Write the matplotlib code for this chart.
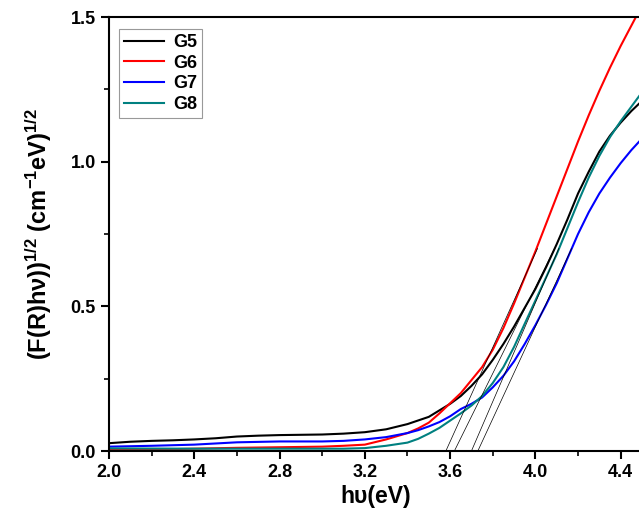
import matplotlib
matplotlib.use('Agg')
import matplotlib.pyplot as plt
from matplotlib.ticker import MultipleLocator

plt.rcParams['font.family'] = ['Liberation Sans', 'DejaVu Sans']
plt.rcParams['font.weight'] = 'bold'
plt.rcParams['mathtext.fontset'] = 'custom'
plt.rcParams['mathtext.rm'] = 'Liberation Sans:bold'
plt.rcParams['mathtext.bf'] = 'Liberation Sans:bold'
plt.rcParams['mathtext.it'] = 'Liberation Sans:bold'
plt.rcParams['mathtext.default'] = 'bf'

# G5 (black)
x_g5 = [2.0, 2.1, 2.2, 2.3, 2.4, 2.5, 2.6, 2.7, 2.8, 2.9, 3.0, 3.1, 3.2, 3.3, 3.4, 3.5,
        3.6, 3.65, 3.7, 3.75, 3.8, 3.85, 3.9, 3.95, 4.0, 4.05, 4.1, 4.15, 4.2, 4.25,
        4.3, 4.35, 4.4, 4.45, 4.5]
y_g5 = [0.027, 0.032, 0.035, 0.037, 0.040, 0.044, 0.050, 0.053, 0.055, 0.056, 0.057,
        0.060, 0.065, 0.075, 0.093, 0.118, 0.163, 0.19, 0.225, 0.265, 0.315, 0.37, 0.43,
        0.495, 0.56, 0.635, 0.715, 0.80, 0.89, 0.965, 1.035, 1.09, 1.135, 1.175, 1.21]

# G6 (red)
x_g6 = [2.0, 2.2, 2.4, 2.6, 2.8, 3.0, 3.1, 3.2, 3.3, 3.4, 3.45, 3.5, 3.55, 3.6, 3.65,
        3.7, 3.75, 3.8, 3.85, 3.9, 3.95, 4.0, 4.05, 4.1, 4.15, 4.2, 4.25, 4.3, 4.35,
        4.4, 4.45, 4.5]
y_g6 = [0.004, 0.005, 0.008, 0.011, 0.013, 0.015, 0.018, 0.022, 0.040, 0.062, 0.078,
        0.098, 0.13, 0.165, 0.20, 0.245, 0.29, 0.35, 0.425, 0.51, 0.60, 0.69, 0.785,
        0.88, 0.975, 1.07, 1.16, 1.245, 1.325, 1.40, 1.47, 1.54]

# G7 (blue)
x_g7 = [2.0, 2.2, 2.4, 2.6, 2.8, 3.0, 3.1, 3.2, 3.3, 3.4, 3.45, 3.5, 3.55, 3.6, 3.65,
        3.7, 3.75, 3.8, 3.85, 3.9, 3.95, 4.0, 4.05, 4.1, 4.15, 4.2, 4.25, 4.3, 4.35,
        4.4, 4.45, 4.5]
y_g7 = [0.015, 0.018, 0.022, 0.030, 0.033, 0.033, 0.035, 0.040, 0.048, 0.062, 0.072,
        0.085, 0.10, 0.12, 0.145, 0.163, 0.185, 0.22, 0.26, 0.31, 0.37, 0.435, 0.505,
        0.58, 0.665, 0.75, 0.825, 0.89, 0.945, 0.995, 1.04, 1.08]

# G8 (teal)
x_g8 = [2.0, 2.4, 2.8, 3.0, 3.1, 3.2, 3.3, 3.4, 3.45, 3.5, 3.55, 3.6, 3.65, 3.7, 3.75,
        3.8, 3.85, 3.9, 3.95, 4.0, 4.05, 4.1, 4.15, 4.2, 4.25, 4.3, 4.35, 4.4, 4.45, 4.5]
y_g8 = [0.009, 0.008, 0.008, 0.008, 0.008, 0.010, 0.018, 0.029, 0.042, 0.060, 0.08,
        0.105, 0.13, 0.157, 0.19, 0.235, 0.29, 0.36, 0.44, 0.52, 0.60, 0.68, 0.77, 0.86,
        0.945, 1.02, 1.085, 1.14, 1.19, 1.24]

# linear fits for the band gap (x-intercepts and upper end)
tan_x0 = [3.58, 3.62, 3.70, 3.73]
tan_x1 = [4.01, 4.09, 4.11, 4.17]
tan_y1 = [0.70, 0.70, 0.70, 0.70]

labels = ['G5', 'G6', 'G7', 'G8']
colors = ['black', 'red', 'blue', '#008080']

fig = plt.figure(figsize=(6.39, 5.19), dpi=100)
ax = fig.add_axes([109 / 639, 68 / 519, 533 / 639, 434 / 519])

for xs, ys, lab, c in zip([x_g5, x_g6, x_g7, x_g8], [y_g5, y_g6, y_g7, y_g8], labels, colors):
    ax.plot(xs, ys, color=c, lw=1.5, label=lab)

for x0, x1, y1 in zip(tan_x0, tan_x1, tan_y1):
    ax.plot([x0, x1], [0, y1], color='black', lw=0.5)

ax.set_xlim(2.0, 4.5)
ax.set_ylim(0.0, 1.5)
ax.xaxis.set_major_locator(MultipleLocator(0.4))
ax.xaxis.set_minor_locator(MultipleLocator(0.2))
ax.yaxis.set_major_locator(MultipleLocator(0.5))
ax.yaxis.set_minor_locator(MultipleLocator(0.25))
ax.xaxis.set_major_formatter(plt.FormatStrFormatter('%.1f'))
ax.yaxis.set_major_formatter(plt.FormatStrFormatter('%.1f'))

for s in ['left', 'bottom', 'top']:
    ax.spines[s].set_linewidth(1.5)
ax.spines['right'].set_visible(False)
ax.tick_params(which='major', direction='out', length=6, width=1.5, labelsize=13)
ax.tick_params(which='minor', direction='out', length=3.5, width=1.2)
ax.tick_params(top=False, right=False, which='both')

ax.set_xlabel('hυ(eV)', fontsize=16.5, fontweight='bold', labelpad=3)
ax.set_ylabel('(F(R)hν))$^{1/2}$ (cm$^{-1}$eV)$^{1/2}$', fontsize=17, fontweight='bold', labelpad=12)

leg = ax.legend(loc='upper left', bbox_to_anchor=(0.018, 0.973), fontsize=13, frameon=True,
                fancybox=False, edgecolor='gray', handlelength=2.2, handletextpad=0.5,
                labelspacing=0.2, borderpad=0.3, borderaxespad=0)
leg.get_frame().set_linewidth(0.8)
for t in leg.get_texts():
    t.set_fontweight('bold')

fig.savefig('out.png', dpi=100)
